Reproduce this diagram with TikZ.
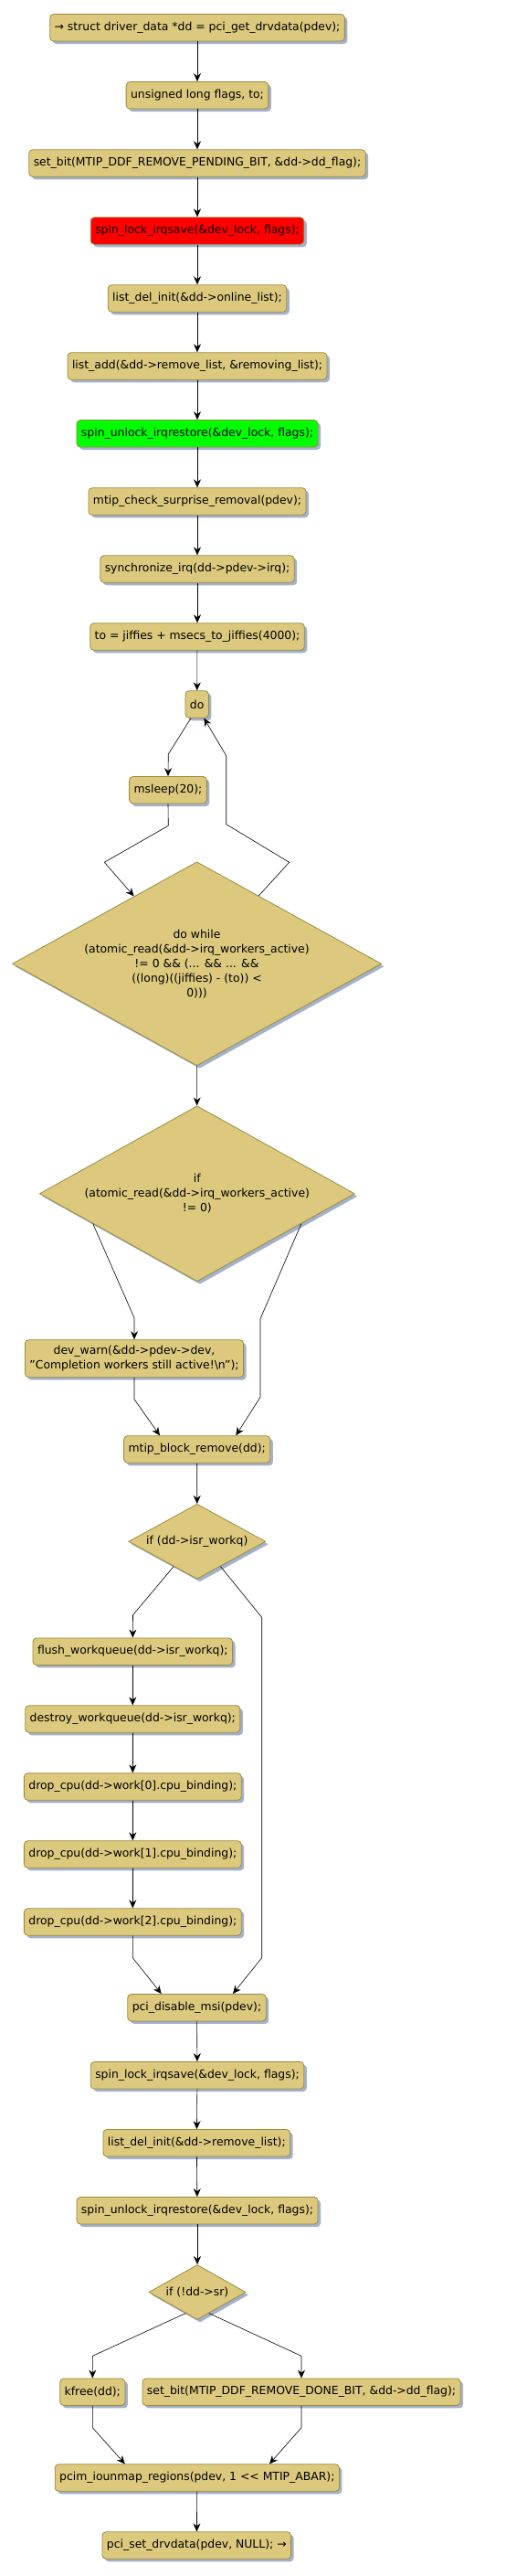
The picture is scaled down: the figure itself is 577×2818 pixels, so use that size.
\documentclass[tikz,border=0pt]{standalone}
\usepackage{fontspec}
\setmainfont{DejaVu Sans}
\usepackage{xcolor}
\usepackage{tikz}
\usetikzlibrary{arrows.meta,calc,shapes.geometric,shadows}

\definecolor{actfill}{HTML}{DCC97E}
\definecolor{actdraw}{HTML}{9C8A3C}
\definecolor{actshadow}{HTML}{A3B1CA}

\begin{document}
\begin{tikzpicture}[
  x=1pt, y=-1pt,
  act/.style={draw=actdraw, line width=0.8pt, fill=actfill, rounded corners=4pt, align=center,
    font=\fontsize{12.4}{16}\selectfont, inner xsep=5pt, inner ysep=4pt, minimum height=29.5pt,
    drop shadow={shadow xshift=3pt, shadow yshift=-3pt, fill=actshadow, opacity=1}},
  lock/.style={act, fill=red},
  unlock/.style={act, fill=green},
  cond/.style={diamond, draw=actdraw, line width=0.8pt, fill=actfill, align=center, inner sep=0pt,
    font=\fontsize{12.4}{16}\selectfont, aspect=1.8,
    drop shadow={shadow xshift=3pt, shadow yshift=-3pt, fill=actshadow, opacity=1}},
  arr/.style={-{Stealth[length=9pt, width=8pt, inset=3pt]}, line width=0.6pt}
]
\useasboundingbox (0,0) rectangle (577,2818);
% straight part
\node[act] (getdd) at (216,30.3) {→ struct driver\_data *dd = pci\_get\_drvdata(pdev);};
\node[act] (flags) at (216,104.3) {unsigned long flags, to;};
\node[act] (setpend) at (216,178.5) {set\_bit(MTIP\_DDF\_REMOVE\_PENDING\_BIT, \&dd->dd\_flag);};
\node[lock] (lockA) at (216,252.5) {spin\_lock\_irqsave(\&dev\_lock, flags);};
\node[act] (delonline) at (216,326.5) {list\_del\_init(\&dd->online\_list);};
\node[act] (addremove) at (216,400.5) {list\_add(\&dd->remove\_list, \&removing\_list);};
\node[unlock] (unlockA) at (216,474.3) {spin\_unlock\_irqrestore(\&dev\_lock, flags);};
\node[act] (surprise) at (216,548.5) {mtip\_check\_surprise\_removal(pdev);};
\node[act] (syncirq) at (216,622.5) {synchronize\_irq(dd->pdev->irq);};
\node[act] (setto) at (216,696.5) {to = jiffies + msecs\_to\_jiffies(4000);};
% do while loop
\node[act] (do) at (215.7,770.5) {do};
\node[act] (msleep) at (184,864.3) {msleep(20);};
\node[cond, minimum width=404pt, minimum height=223pt] (dowhile) at (215.5,1054.3)
  {do while\\(atomic\_read(\&dd->irq\_workers\_active)\\!= 0 \&\& (... \&\& ... \&\&\\((long)((jiffies) - (to)) <\\0)))};
\node[cond, minimum width=345pt, minimum height=192pt] (ifactive) at (215.8,1305.8)
  {if\\(atomic\_read(\&dd->irq\_workers\_active)\\!= 0)};
\node[act, minimum height=41pt] (warn) at (147,1486.2)
  {dev\_warn(\&dd->pdev->dev,\\"Completion workers still active!\textbackslash n");};
\node[act] (blockrm) at (215.7,1585.5) {mtip\_block\_remove(dd);};
% isr_workq
\node[cond, minimum width=150pt, minimum height=82pt] (ifworkq) at (215.8,1686.3) {if (dd->isr\_workq)};
\node[act] (flush) at (145.3,1806.7) {flush\_workqueue(dd->isr\_workq);};
\node[act] (destroy) at (145.3,1880.5) {destroy\_workqueue(dd->isr\_workq);};
\node[act] (dropA) at (145.3,1954.5) {drop\_cpu(dd->work[0].cpu\_binding);};
\node[act] (dropB) at (145.3,2028.5) {drop\_cpu(dd->work[1].cpu\_binding);};
\node[act] (dropC) at (145.3,2102.5) {drop\_cpu(dd->work[2].cpu\_binding);};
\node[act] (nomsi) at (215.5,2196.2) {pci\_disable\_msi(pdev);};
\node[act] (lockB) at (216,2270.3) {spin\_lock\_irqsave(\&dev\_lock, flags);};
\node[act] (delremove) at (215.3,2344.3) {list\_del\_init(\&dd->remove\_list);};
\node[act] (unlockB) at (216,2418.3) {spin\_unlock\_irqrestore(\&dev\_lock, flags);};
% sr
\node[cond, minimum width=106pt, minimum height=60pt] (ifsr) at (216,2507.5) {if (!dd->sr)};
\node[act] (kfree) at (101.3,2616.7) {kfree(dd);};
\node[act] (setdone) at (330,2616.7) {set\_bit(MTIP\_DDF\_REMOVE\_DONE\_BIT, \&dd->dd\_flag);};
\node[act] (iounmap) at (215.8,2710.5) {pcim\_iounmap\_regions(pdev, 1 <{}< MTIP\_ABAR);};
\node[act] (setnull) at (215.3,2784.5) {pci\_set\_drvdata(pdev, NULL); →};

\draw[arr] (getdd) -- (flags);
\draw[arr] (flags) -- (setpend);
\draw[arr] (setpend) -- (lockA);
\draw[arr] (lockA) -- (delonline);
\draw[arr] (delonline) -- (addremove);
\draw[arr] (addremove) -- (unlockA);
\draw[arr] (unlockA) -- (surprise);
\draw[arr] (surprise) -- (syncirq);
\draw[arr] (syncirq) -- (setto);
\draw[arr] (setto) -- (do);
\draw[arr] ([xshift=-6.7pt]do.south) -- (184.3,825) -- (msleep.north);
\draw[arr] (msleep.south) -- (184.3,903.3) -- (114.3,943.3) -- ($(dowhile.north)!0.34!(dowhile.west)$);
\draw[arr] ($(dowhile.north)!0.335!(dowhile.east)$) -- (316.7,943.3) -- (247.7,901.7) -- (247.7,826.7) -- ([xshift=7.6pt]do.south);
\draw[arr] (dowhile) -- (ifactive);
\draw[arr] ($(ifactive.west)!0.34!(ifactive.south)$) -- (147,1441.7) -- (warn.north);
\draw[arr] ($(ifactive.east)!0.34!(ifactive.south)$) -- (285,1442.7) -- (285,1528.3) -- ([xshift=42.6pt]blockrm.north);
\draw[arr] (warn.south) -- (147,1530.7) -- ([xshift=-40.7pt]blockrm.north);
\draw[arr] (blockrm) -- (ifworkq);
\draw[arr] ($(ifworkq.west)!0.66!(ifworkq.south)$) -- (145.5,1766.7) -- (flush.north);
\draw[arr] ($(ifworkq.east)!0.66!(ifworkq.south)$) -- (286.7,1769.3) -- (286.7,2141.7) -- ([xshift=39.5pt]nomsi.north);
\draw[arr] (flush) -- (destroy);
\draw[arr] (destroy) -- (dropA);
\draw[arr] (dropA) -- (dropB);
\draw[arr] (dropB) -- (dropC);
\draw[arr] (dropC.south) -- (145.3,2141.7) -- ([xshift=-38.8pt]nomsi.north);
\draw[arr] (nomsi) -- (lockB);
\draw[arr] (lockB) -- (delremove);
\draw[arr] (delremove) -- (unlockB);
\draw[arr] (unlockB) -- (ifsr);
\draw[arr] ($(ifsr.west)!0.76!(ifsr.south)$) -- (101.3,2577.3) -- (kfree.north);
\draw[arr] ($(ifsr.east)!0.76!(ifsr.south)$) -- (330,2577.3) -- (setdone.north);
\draw[arr] (kfree.south) -- (101.3,2655.7) -- ([xshift=-79pt]iounmap.north);
\draw[arr] (setdone.south) -- (330,2655.7) -- ([xshift=79.2pt]iounmap.north);
\draw[arr] (iounmap) -- (setnull);
\end{tikzpicture}
\end{document}
